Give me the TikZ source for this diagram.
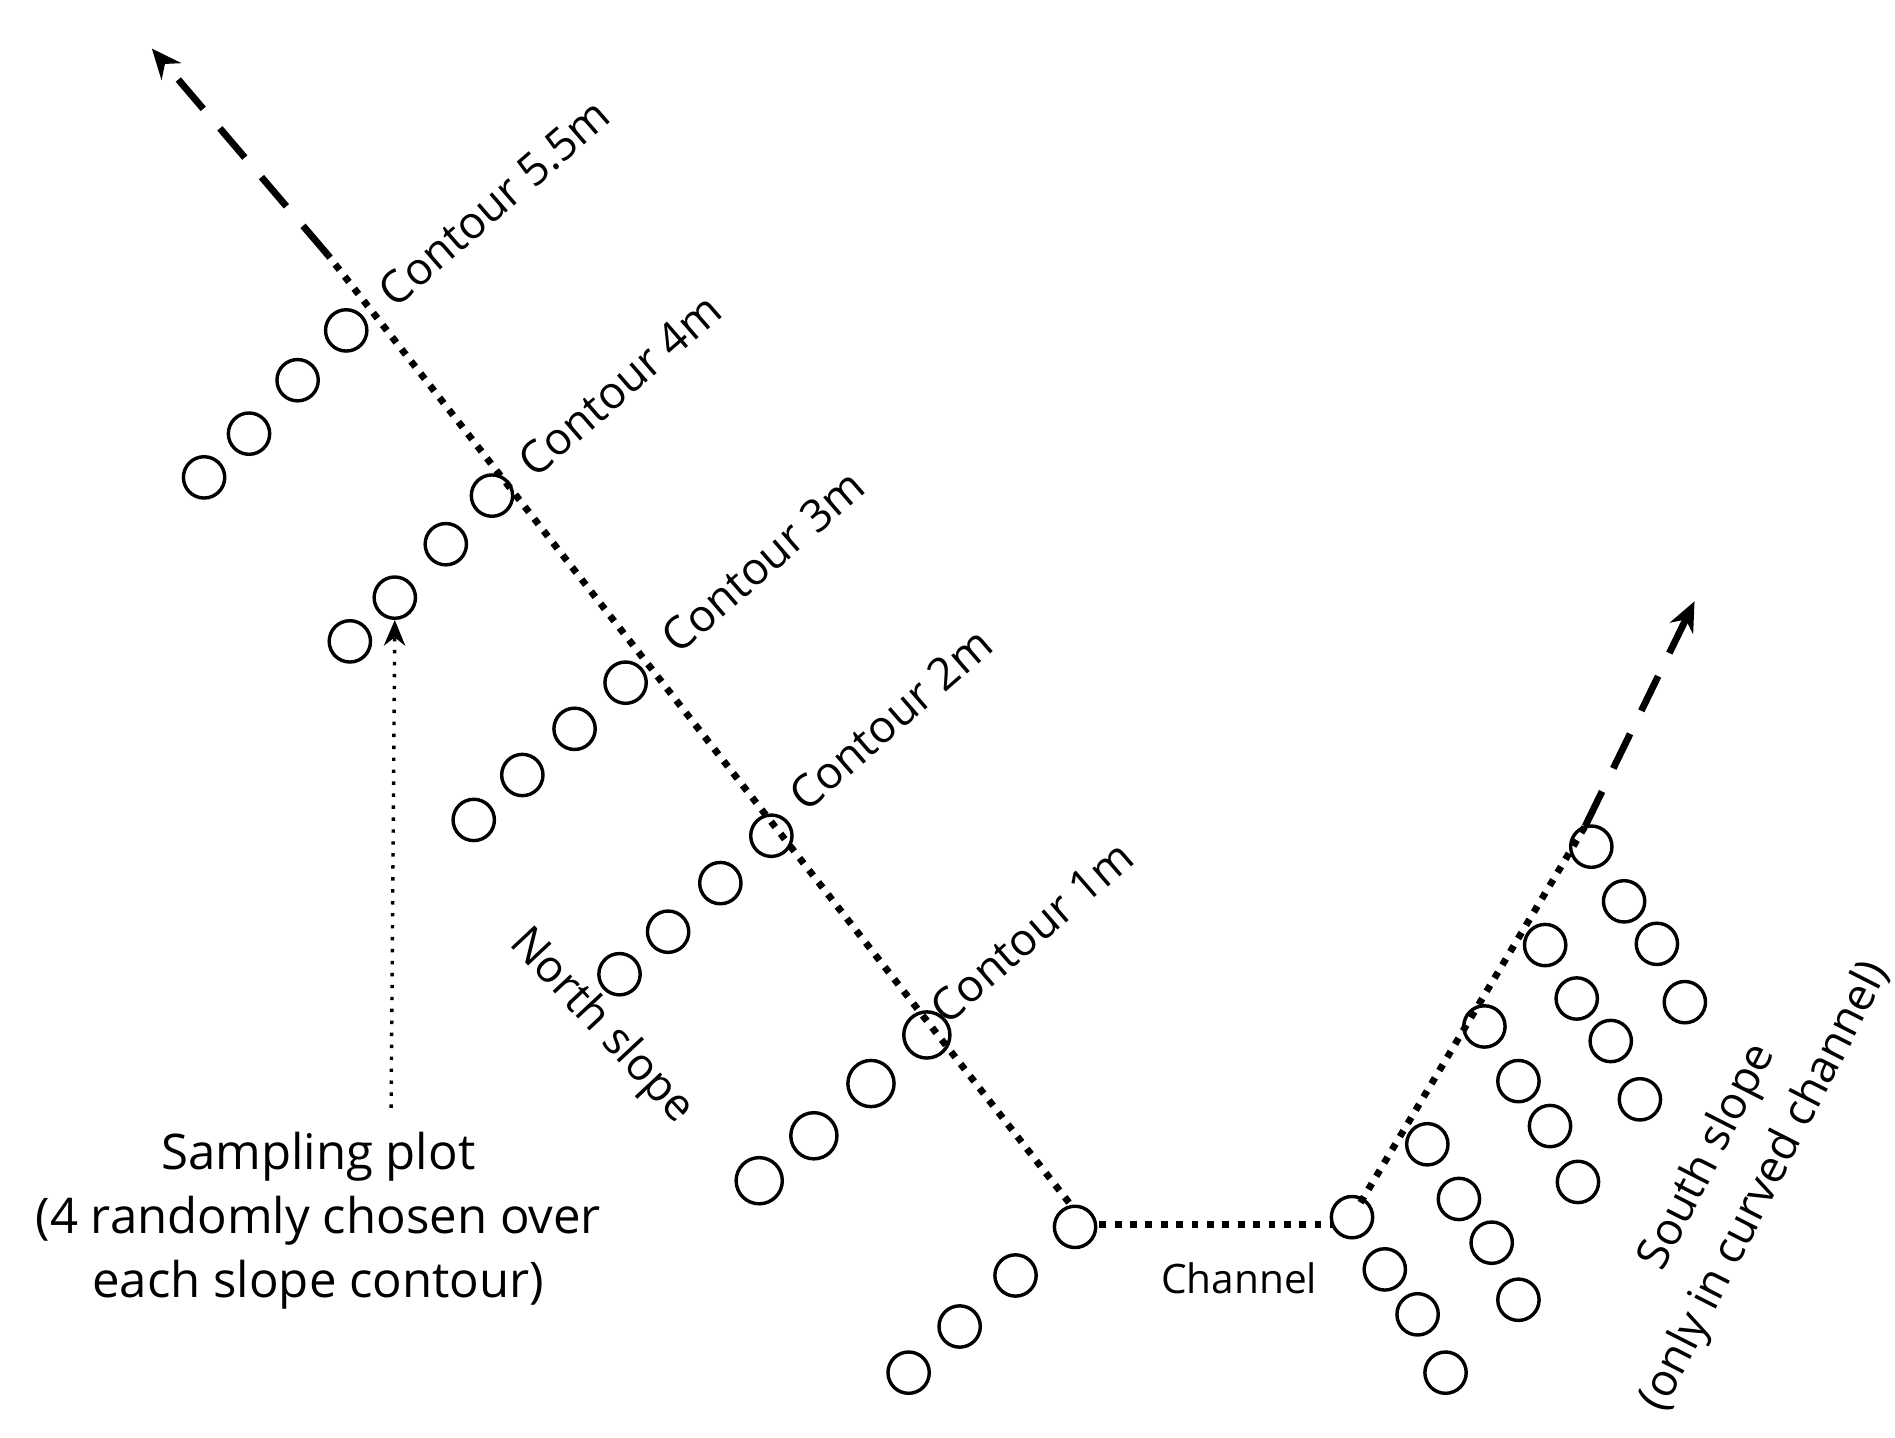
\documentclass[tikz,border=0pt]{standalone}
\usepackage{fontspec}
\setmainfont{Open Sans}
\usetikzlibrary{arrows.meta}
\begin{document}
\begin{tikzpicture}[x=0.01cm,y=-0.01cm,
  plot/.style={circle,draw,line width=0.8pt,minimum size=0.34cm,inner sep=0pt},
  big/.style={plot,minimum size=0.38cm},
  dots/.style={line width=1.6pt,dotted},
  dasharrow/.style={line width=1.6pt,dash pattern=on 9pt off 6pt,-{Stealth[length=7pt,width=6pt]}},
  lab/.style={font=\fontsize{10.5}{13}\selectfont,inner sep=0pt}]
\useasboundingbox (0,0) rectangle (1560,1183);
\coordinate (top) at (125,40);
\coordinate (bend) at (270,210);
\coordinate (n0) at (880,990);
\coordinate (c1) at (905,1008);
\coordinate (c2) at (1097,1008);
\coordinate (s0) at (1120,990);
\coordinate (sb) at (1305,680);
\coordinate (stop) at (1395,495);
\draw[dots] (n0) -- (bend);
\draw[dasharrow] (bend) -- (top);
\draw[dots] (c1) -- (c2);
\draw[dots] (s0) -- (sb);
\draw[dasharrow] (sb) -- (stop);
\foreach \n/\x/\y in {a1/168/393,a2/205/357,a3/245/313,a4/285/272,
 b1/288/528,b2/325/492,b3/367/448,b4/405/408,
 c1/390/675,c2/430/638,c3/473/600,c4/515/562,
 d1/510/802,d2/550/767,d3/593/727,d4/635/688,
 f1/748/1130,f2/790/1092,f3/836/1050,f4/885/1010}
  \node[plot] (\n) at (\x,\y) {};
\foreach \n/\x/\y in {e1/625/972,e2/670/935,e3/717/892,e4/763/852}
  \node[big] (\n) at (\x,\y) {};
\foreach \n/\x/\y in {s1/1113/1002,s2/1140/1045,s3/1167/1082,s4/1190/1130,
 t1/1175/942,t2/1201/987,t3/1228/1023,t4/1250/1070,
 u1/1222/845,u2/1250/890,u3/1276/927,u4/1299/973,
 v1/1272/778,v2/1298/822,v3/1326/857,v4/1350/905,
 w1/1310/697,w2/1337/742,w3/1364/777,w4/1387/825}
  \node[plot] (\n) at (\x,\y) {};
\node[lab,rotate=41,anchor=south west] (l55) at (326,256) {Contour 5.5m};
\node[lab,rotate=41,anchor=south west] (l4) at (441,396) {Contour 4m};
\node[lab,rotate=41,anchor=south west] (l3) at (559,541) {Contour 3m};
\node[lab,rotate=41,anchor=south west] (l2) at (664,671) {Contour 2m};
\node[lab,rotate=41,anchor=south west] (l1) at (780,846) {Contour 1m};
\node[lab,rotate=-47] (ns) at (495,845) {North slope};
\node[lab,font=\fontsize{9.5}{11}\selectfont] (ch) at (1020,1052) {Channel};
\node[lab,rotate=63,align=center,font=\fontsize{10.5}{15}\selectfont] (ss) at (1430,965) {South slope\\(only in curved channel)};
\node[lab,align=center,font=\fontsize{11.5}{15}\selectfont] (sp) at (262,1005) {Sampling plot\\(4 randomly chosen over\\each slope contour)};
\coordinate (spt) at (322,912);
\draw[line width=0.8pt,dotted,-{Stealth[length=6pt,width=5pt]}] (spt) -- (b2.south);
\end{tikzpicture}
\end{document}
